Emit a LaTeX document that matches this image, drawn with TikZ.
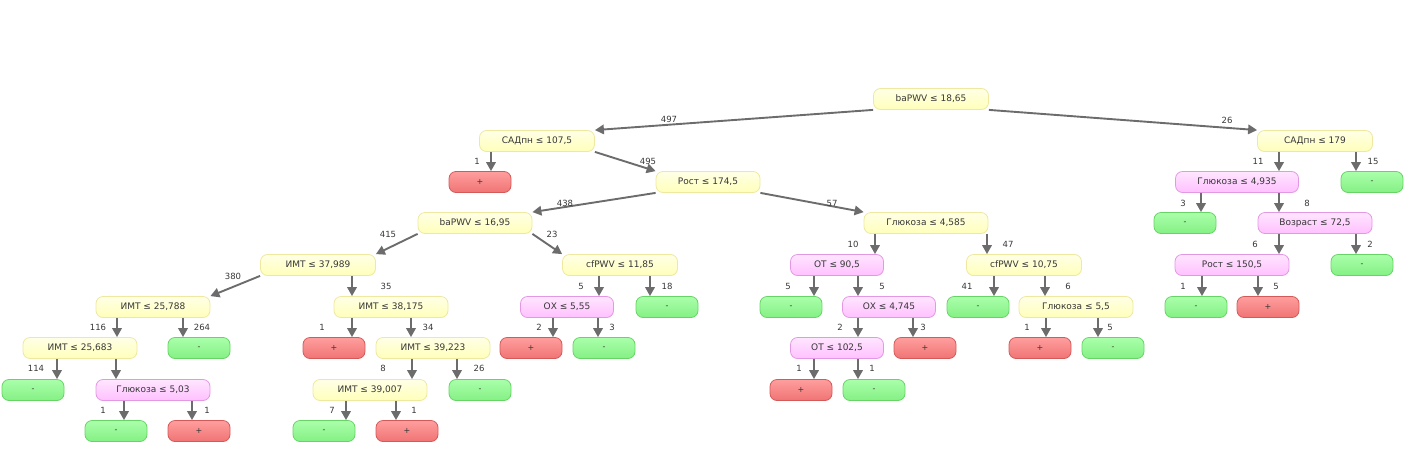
\documentclass[tikz,border=0pt]{standalone}
\usepackage{fontspec}
\setmainfont{DejaVu Sans}
\usetikzlibrary{arrows.meta}
\definecolor{ytop}{RGB}{255,255,230}
\definecolor{ybot}{RGB}{255,255,186}
\definecolor{yline}{RGB}{238,232,160}
\definecolor{ptop}{RGB}{255,230,255}
\definecolor{pbot}{RGB}{255,192,255}
\definecolor{pline}{RGB}{226,152,226}
\definecolor{gtop}{RGB}{170,255,170}
\definecolor{gbot}{RGB}{132,240,132}
\definecolor{gline}{RGB}{104,212,104}
\definecolor{rtop}{RGB}{255,158,158}
\definecolor{rbot}{RGB}{240,116,116}
\definecolor{rline}{RGB}{212,90,90}
\definecolor{edge}{RGB}{108,108,108}
\definecolor{txt}{RGB}{55,55,55}

\begin{document}
\begin{tikzpicture}[x=1pt,y=-1pt]
  \tikzset{box/.style={draw,rectangle,inner sep=0pt,minimum height=21pt,rounded corners=7pt,line width=0.8pt,text=txt,font=\fontsize{9}{10}\selectfont}}
  \tikzset{ynode/.style={box,minimum width=115pt,draw=yline,top color=ytop,bottom color=ybot}}
  \tikzset{pnode/.style={box,minimum width=115pt,draw=pline,top color=ptop,bottom color=pbot}}
  \tikzset{leafm/.style={box,minimum width=62pt,draw=gline,top color=gtop,bottom color=gbot,font=\fontsize{8}{9}\selectfont}}
  \tikzset{leafp/.style={box,minimum width=62pt,draw=rline,top color=rtop,bottom color=rbot,font=\fontsize{8}{9}\selectfont}}
  \tikzset{arrow/.style={draw=edge,line width=1.9pt,-{Triangle[length=9pt,width=9.5pt]}}}
  \tikzset{lbl/.style={inner sep=0pt,text=txt,font=\fontsize{8.5}{9}\selectfont}}

  \useasboundingbox (0,0) rectangle (1410,453);

  % decision nodes
  \node[ynode] (root) at (931,99) {baPWV ≤ 18,65};
  \node[ynode] (sad1) at (537,141) {САДпн ≤ 107,5};
  \node[ynode] (sad2) at (1315,141) {САДпн ≤ 179};
  \node[ynode,minimum width=104pt] (rost1) at (708,182) {Рост ≤ 174,5};
  \node[pnode,minimum width=123pt] (glu1) at (1237,182) {Глюкоза ≤ 4,935};
  \node[ynode,minimum width=114pt] (bapwv) at (475,223) {baPWV ≤ 16,95};
  \node[ynode,minimum width=124pt] (glu2) at (926,223) {Глюкоза ≤ 4,585};
  \node[pnode,minimum width=114pt] (voz) at (1315,223) {Возраст ≤ 72,5};
  \node[ynode] (imt1) at (318,265) {ИМТ ≤ 37,989};
  \node[ynode] (cf1) at (620,265) {cfPWV ≤ 11,85};
  \node[pnode,minimum width=93pt] (ot1) at (837,265) {ОТ ≤ 90,5};
  \node[ynode] (cf2) at (1024,265) {cfPWV ≤ 10,75};
  \node[pnode,minimum width=114pt] (rost2) at (1232,265) {Рост ≤ 150,5};
  \node[ynode,minimum width=114pt] (imt2) at (153,307) {ИМТ ≤ 25,788};
  \node[ynode,minimum width=114pt] (imt3) at (391,307) {ИМТ ≤ 38,175};
  \node[pnode,minimum width=93pt] (ox1) at (567,307) {ОХ ≤ 5,55};
  \node[pnode,minimum width=93pt] (ox2) at (889,307) {ОХ ≤ 4,745};
  \node[ynode,minimum width=114pt] (glu3) at (1076,307) {Глюкоза ≤ 5,5};
  \node[ynode,minimum width=114pt] (imt4) at (80,348) {ИМТ ≤ 25,683};
  \node[ynode,minimum width=114pt] (imt5) at (433,348) {ИМТ ≤ 39,223};
  \node[pnode,minimum width=93pt] (ot2) at (837,348) {ОТ ≤ 102,5};
  \node[pnode,minimum width=114pt] (glu4) at (153,390) {Глюкоза ≤ 5,03};
  \node[ynode,minimum width=114pt] (imt6) at (370,390) {ИМТ ≤ 39,007};

  % leaves
  \node[leafp] (pl1) at (480,182) {+};
  \node[leafm] (mn1) at (1372,182) {-};
  \node[leafm] (mn2) at (1185,223) {-};
  \node[leafm] (mn3) at (1362,265) {-};
  \node[leafm] (mn4) at (667,307) {-};
  \node[leafm] (mn5) at (791,307) {-};
  \node[leafm] (mn6) at (978,307) {-};
  \node[leafm] (mn7) at (1196,307) {-};
  \node[leafp] (pl2) at (1268,307) {+};
  \node[leafm] (mn8) at (199,348) {-};
  \node[leafp] (pl3) at (334,348) {+};
  \node[leafp] (pl4) at (531,348) {+};
  \node[leafm] (mn9) at (604,348) {-};
  \node[leafp] (pl5) at (925,348) {+};
  \node[leafp] (pl6) at (1040,348) {+};
  \node[leafm] (mn10) at (1113,348) {-};
  \node[leafm] (mn11) at (33,390) {-};
  \node[leafm] (mn12) at (480,390) {-};
  \node[leafp] (pl7) at (801,390) {+};
  \node[leafm] (mn13) at (874,390) {-};
  \node[leafm] (mn14) at (116,431) {-};
  \node[leafp] (pl8) at (199,431) {+};
  \node[leafm] (mn15) at (324,431) {-};
  \node[leafp] (pl9) at (407,431) {+};

  % slanted branches
  \draw[arrow] (root.south west) -- (sad1.north east) node[lbl] (nsad1) at (669,119) {497};
  \draw[arrow] (root.south east) -- (sad2.north west) node[lbl] (nsad2) at (1227,120) {26};
  \draw[arrow] (sad1.south east) -- (rost1.north west) node[lbl] (nrost1) at (648,161) {495};
  \draw[arrow] (rost1.south west) -- (bapwv.north east) node[lbl] (nbapwv) at (565,203) {438};
  \draw[arrow] (rost1.south east) -- (glu2.north west) node[lbl] (nglu2) at (832,203) {57};
  \draw[arrow] (bapwv.south west) -- (imt1.north east) node[lbl] (nimt1) at (388,234) {415};
  \draw[arrow] (bapwv.south east) -- (cf1.north west) node[lbl] (ncf1) at (552,234) {23};
  \draw[arrow] (imt1.south west) -- (imt2.north east) node[lbl] (nimt2) at (233,276) {380};

  % straight branches
  \draw[arrow] (sad1.south -| 491,0) -- (pl1.north -| 491,0) node[lbl] (npl1) at (477,161) {1};
  \draw[arrow] (sad2.south -| 1279,0) -- (glu1.north -| 1279,0) node[lbl] (nglu1) at (1258,161) {11};
  \draw[arrow] (sad2.south -| 1356,0) -- (mn1.north -| 1356,0) node[lbl] (nmn1) at (1373,161) {15};
  \draw[arrow] (glu1.south -| 1201,0) -- (mn2.north -| 1201,0) node[lbl] (nmn2) at (1183,203) {3};
  \draw[arrow] (glu1.south -| 1279,0) -- (voz.north -| 1279,0) node[lbl] (nvoz) at (1307,203) {8};
  \draw[arrow] (glu2.south -| 875,0) -- (ot1.north -| 875,0) node[lbl] (not1) at (853,244) {10};
  \draw[arrow] (glu2.south -| 987,0) -- (cf2.north -| 987,0) node[lbl] (ncf2) at (1008,244) {47};
  \draw[arrow] (voz.south -| 1279,0) -- (rost2.north -| 1279,0) node[lbl] (nrost2) at (1255,244) {6};
  \draw[arrow] (voz.south -| 1356,0) -- (mn3.north -| 1356,0) node[lbl] (nmn3) at (1370,244) {2};
  \draw[arrow] (imt1.south -| 352,0) -- (imt3.north -| 352,0) node[lbl] (nimt3) at (386,286) {35};
  \draw[arrow] (cf1.south -| 599,0) -- (ox1.north -| 599,0) node[lbl] (nox1) at (581,286) {5};
  \draw[arrow] (cf1.south -| 650,0) -- (mn4.north -| 650,0) node[lbl] (nmn4) at (667,286) {18};
  \draw[arrow] (ot1.south -| 814,0) -- (mn5.north -| 814,0) node[lbl] (nmn5) at (788,286) {5};
  \draw[arrow] (ot1.south -| 858,0) -- (ox2.north -| 858,0) node[lbl] (nox2) at (882,286) {5};
  \draw[arrow] (cf2.south -| 994,0) -- (mn6.north -| 994,0) node[lbl] (nmn6) at (967,286) {41};
  \draw[arrow] (cf2.south -| 1045,0) -- (glu3.north -| 1045,0) node[lbl] (nglu3) at (1068,286) {6};
  \draw[arrow] (rost2.south -| 1202,0) -- (mn7.north -| 1202,0) node[lbl] (nmn7) at (1183,286) {1};
  \draw[arrow] (rost2.south -| 1258,0) -- (pl2.north -| 1258,0) node[lbl] (npl2) at (1276,286) {5};
  \draw[arrow] (imt2.south -| 117,0) -- (imt4.north -| 117,0) node[lbl] (nimt4) at (98,327) {116};
  \draw[arrow] (imt2.south -| 183,0) -- (mn8.north -| 183,0) node[lbl] (nmn8) at (202,327) {264};
  \draw[arrow] (imt3.south -| 352,0) -- (pl3.north -| 352,0) node[lbl] (npl3) at (322,327) {1};
  \draw[arrow] (imt3.south -| 411,0) -- (imt5.north -| 411,0) node[lbl] (nimt5) at (428,327) {34};
  \draw[arrow] (ox1.south -| 553,0) -- (pl4.north -| 553,0) node[lbl] (npl4) at (539,327) {2};
  \draw[arrow] (ox1.south -| 598,0) -- (mn9.north -| 598,0) node[lbl] (nmn9) at (612,327) {3};
  \draw[arrow] (ox2.south -| 858,0) -- (ot2.north -| 858,0) node[lbl] (not2) at (840,327) {2};
  \draw[arrow] (ox2.south -| 913,0) -- (pl5.north -| 913,0) node[lbl] (npl5) at (923,327) {3};
  \draw[arrow] (glu3.south -| 1046,0) -- (pl6.north -| 1046,0) node[lbl] (npl6) at (1027,327) {1};
  \draw[arrow] (glu3.south -| 1098,0) -- (mn10.north -| 1098,0) node[lbl] (nmn10) at (1110,327) {5};
  \draw[arrow] (imt4.south -| 57,0) -- (mn11.north -| 57,0) node[lbl] (nmn11) at (36,368) {114};
  \draw[arrow] (imt4.south -| 116,0) -- (glu4.north -| 116,0);
  \draw[arrow] (imt5.south -| 412,0) -- (imt6.north -| 412,0) node[lbl] (nimt6) at (383,368) {8};
  \draw[arrow] (imt5.south -| 457,0) -- (mn12.north -| 457,0) node[lbl] (nmn12) at (479,368) {26};
  \draw[arrow] (ot2.south -| 814,0) -- (pl7.north -| 814,0) node[lbl] (npl7) at (799,368) {1};
  \draw[arrow] (ot2.south -| 858,0) -- (mn13.north -| 858,0) node[lbl] (nmn13) at (872,368) {1};
  \draw[arrow] (glu4.south -| 124,0) -- (mn14.north -| 124,0) node[lbl] (nmn14) at (103,410) {1};
  \draw[arrow] (glu4.south -| 192,0) -- (pl8.north -| 192,0) node[lbl] (npl8) at (207,410) {1};
  \draw[arrow] (imt6.south -| 346,0) -- (mn15.north -| 346,0) node[lbl] (nmn15) at (332,410) {7};
  \draw[arrow] (imt6.south -| 396,0) -- (pl9.north -| 396,0) node[lbl] (npl9) at (414,410) {1};

\end{tikzpicture}
\end{document}
